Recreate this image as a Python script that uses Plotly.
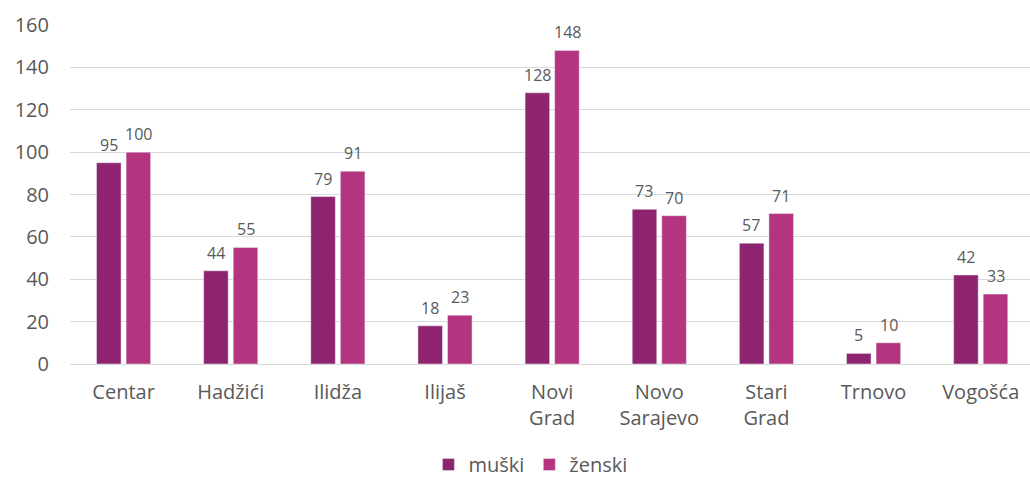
import plotly.graph_objects as go

categories = ["Centar", "Hadžići", "Ilidža", "Ilijaš", "Novi<br>Grad", "Novo<br>Sarajevo",
              "Stari<br>Grad", "Trnovo", "Vogošća"]
muski = [95, 44, 79, 18, 128, 73, 57, 5, 42]
zenski = [100, 55, 91, 23, 148, 70, 71, 10, 33]
y_ticks = [0, 20, 40, 60, 80, 100, 120, 140, 160]

FONT = "Open Sans"
TXT = "#595959"

fig = go.Figure()
fig.add_trace(go.Bar(name="muški", x=categories, y=muski, marker_color="#8E2370"))
fig.add_trace(go.Bar(name="ženski", x=categories, y=zenski, marker_color="#B4347F"))

# data labels as annotations above each bar
for series, shift in ((muski, -15), (zenski, 15)):
    for c, v in zip(categories, series):
        fig.add_annotation(x=c, y=v, text=str(v), showarrow=False, xshift=shift,
                           yshift=5, yanchor="bottom", xanchor="center",
                           font=dict(family=FONT, size=16, color=TXT))

fig.update_layout(
    width=1030, height=484,
    margin=dict(l=70, r=0, t=25, b=120),
    paper_bgcolor="white", plot_bgcolor="white",
    font=dict(family=FONT, color=TXT, size=20),
    barmode="group", bargap=0.448, bargroupgap=0.17,
    showlegend=True,
    legend=dict(orientation="h", xref="container", yref="container",
                x=0.515, y=0.0, xanchor="center", yanchor="bottom",
                font=dict(family=FONT, size=20, color=TXT),
                itemwidth=30, traceorder="normal"),
    hovermode=False,
)
fig.update_xaxes(range=[-0.5, 8.46], showgrid=False, showline=False,
                 tickfont=dict(family=FONT, size=20, color=TXT), ticks="",
                 ticklabelstandoff=14)
fig.update_yaxes(range=[0, 160], tickvals=y_ticks, showgrid=True, gridcolor="#D9D9D9",
                 gridwidth=1, zeroline=True, zerolinecolor="#D9D9D9", zerolinewidth=1,
                 tickfont=dict(family=FONT, size=20, color=TXT), ticks="",
                 ticklabelstandoff=20)

fig.write_html("out.html")
